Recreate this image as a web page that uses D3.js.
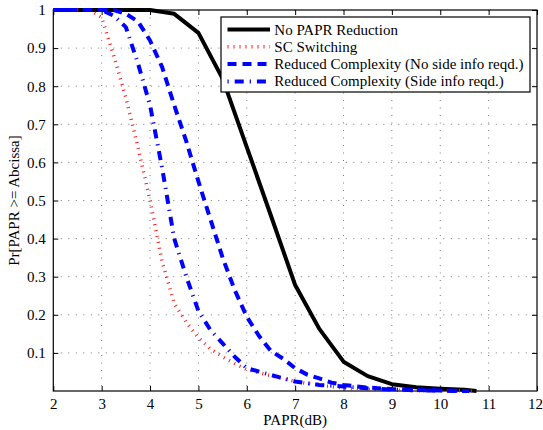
<!DOCTYPE html>
<html>
<head>
<meta charset="utf-8">
<script src="https://cdn.jsdelivr.net/npm/d3@7"></script>
<style>
  body { margin: 0; background: #fff; }
  svg { display: block; font-family: "Liberation Serif", "Times New Roman", serif; }
</style>
</head>
<body>
<svg id="chart" width="543" height="430"></svg>
<script>
// ---- data ----
const xTicks = [2, 3, 4, 5, 6, 7, 8, 9, 10, 11, 12];
const yTicks = [0.1, 0.2, 0.3, 0.4, 0.5, 0.6, 0.7, 0.8, 0.9, 1];
const seriesNames = ["No PAPR Reduction", "SC Switching",
  "Reduced Complexity (No side info reqd.)", "Reduced Complexity (Side info reqd.)"];

const noReductionX = [2, 2.5, 3, 3.5, 4, 4.5, 5, 5.5, 6, 6.5, 7, 7.5, 8, 8.5, 9, 9.5, 10, 10.5, 10.75];
const noReductionY = [1, 1, 1, 1, 1, 0.99, 0.94, 0.82, 0.64, 0.46, 0.278, 0.163, 0.077, 0.039, 0.018, 0.01, 0.006, 0.003, 0];

const scX = [2, 2.5, 2.75, 3, 3.25, 3.5, 3.75, 4, 4.25, 4.5, 4.75, 5, 5.25, 5.5, 5.75, 6, 6.5, 7, 7.5, 8, 8.5, 9, 10, 10.7];
const scY = [1, 1, 1, 0.98, 0.88, 0.77, 0.64, 0.5, 0.34, 0.23, 0.18, 0.14, 0.11, 0.09, 0.072, 0.056, 0.04, 0.025, 0.015, 0.008, 0.004, 0.002, 0.001, 0];

const noSideX = [2, 3, 3.25, 3.5, 3.75, 4, 4.25, 4.5, 4.75, 5, 5.25, 5.5, 5.75, 6, 6.25, 6.5, 6.75, 7, 7.25, 7.5, 7.75, 8, 8.5, 9, 9.5, 10, 10.6];
const noSideY = [1, 1, 1, 0.99, 0.97, 0.92, 0.85, 0.75, 0.655, 0.55, 0.45, 0.35, 0.265, 0.195, 0.145, 0.105, 0.085, 0.06, 0.043, 0.033, 0.022, 0.016, 0.009, 0.005, 0.003, 0.001, 0];

const sideX = [2, 3, 3.25, 3.5, 3.75, 4, 4.25, 4.5, 4.75, 5, 5.25, 5.5, 5.75, 6, 6.5, 7, 7.5, 8, 8.5, 9, 9.5, 10.6];
const sideY = [1, 1, 0.985, 0.955, 0.86, 0.75, 0.585, 0.4, 0.3, 0.21, 0.16, 0.125, 0.09, 0.06, 0.042, 0.025, 0.016, 0.012, 0.007, 0.004, 0.002, 0];

// ---- layout ----
const L = 53.3, R = 537, T = 10, B = 391;
const svg = d3.select("#chart");
const x = d3.scaleLinear().domain([2, 12]).range([L, R]);
const y = d3.scaleLinear().domain([0, 1]).range([B, T]);

// grid
const grid = svg.append("g");
grid.selectAll("line.v").data(xTicks.filter(d => d > 2 && d < 12)).enter().append("line")
  .attr("x1", d => x(d)).attr("x2", d => x(d)).attr("y1", T).attr("y2", B)
  .attr("stroke", "#555").attr("stroke-width", 0.8).attr("stroke-dasharray", "1,6.5");
grid.selectAll("line.h").data(yTicks.filter(d => d < 1)).enter().append("line")
  .attr("y1", d => y(d)).attr("y2", d => y(d)).attr("x1", L).attr("x2", R)
  .attr("stroke", "#555").attr("stroke-width", 0.8).attr("stroke-dasharray", "1,6.5");

// axes
const fontSize = 15;
const xAxis = svg.append("g").attr("transform", `translate(0,${B})`)
  .call(d3.axisBottom(x).tickValues(xTicks).tickFormat(d3.format("d")).tickSize(-5).tickPadding(7.5));
const yAxis = svg.append("g").attr("transform", `translate(${L},0)`)
  .call(d3.axisLeft(y).tickValues(yTicks).tickFormat(d => d === 1 ? "1" : d3.format(".1f")(d)).tickSize(-5).tickPadding(7.5));
const xTop = svg.append("g").attr("transform", `translate(0,${T})`)
  .call(d3.axisTop(x).tickValues(xTicks).tickFormat("").tickSize(-5));
const yRight = svg.append("g").attr("transform", `translate(${R},0)`)
  .call(d3.axisRight(y).tickValues(yTicks).tickFormat("").tickSize(-5));
[xAxis, yAxis, xTop, yRight].forEach(g => {
  g.select(".domain").remove();
  g.selectAll("text").attr("font-size", fontSize).attr("font-family", "Liberation Serif").attr("fill", "#000");
  g.selectAll("line").attr("stroke", "#000");
});
// keep the last x tick label inside the picture
xAxis.selectAll(".tick").filter(d => d === 12).select("text")
  .attr("text-anchor", "end").attr("x", 542.5 - R);

// box
svg.append("rect").attr("x", L).attr("y", T).attr("width", R - L).attr("height", B - T)
  .attr("fill", "none").attr("stroke", "#000").attr("stroke-width", 1.2);

// curves
const series = [
  { xs: noReductionX, ys: noReductionY, color: "#000", width: 4, dash: null },
  { xs: scX, ys: scY, color: "#ff1a1a", width: 3.5, dash: "1,5" },
  { xs: noSideX, ys: noSideY, color: "#0000ff", width: 4, dash: "9,6" },
  { xs: sideX, ys: sideY, color: "#0000ff", width: 4, dash: "1.2,6,9,6" }
];
const line = d3.line().x(d => x(d[0])).y(d => y(d[1]));
series.forEach(s => {
  svg.append("path").datum(s.xs.map((v, i) => [v, s.ys[i]]))
    .attr("d", line).attr("fill", "none").attr("stroke", s.color)
    .attr("stroke-width", s.width).attr("stroke-dasharray", s.dash)
    .attr("stroke-linejoin", "round");
});

// legend
const lg = svg.append("g");
lg.append("rect").attr("x", 221).attr("y", 17).attr("width", 309).attr("height", 75)
  .attr("fill", "#fff").attr("stroke", "#000").attr("stroke-width", 1.2);
seriesNames.forEach((name, i) => {
  const by = 34.5 + i * 17.3;
  const s = series[i];
  lg.append("line").attr("x1", 227.5).attr("x2", 270).attr("y1", by - 5).attr("y2", by - 5)
    .attr("stroke", s.color).attr("stroke-width", s.width).attr("stroke-dasharray", s.dash);
  lg.append("text").attr("x", 274.3).attr("y", by).attr("font-size", fontSize).text(name);
});

// axis labels
svg.append("text").attr("x", (L + R) / 2).attr("y", 424.5).attr("text-anchor", "middle")
  .attr("font-size", fontSize).text("PAPR(dB)");
svg.append("text").attr("transform", `translate(19,${(T + B) / 2}) rotate(-90)`)
  .attr("text-anchor", "middle").attr("font-size", fontSize).text("Pr[PAPR >= Abcissa]");
</script>
</body>
</html>
